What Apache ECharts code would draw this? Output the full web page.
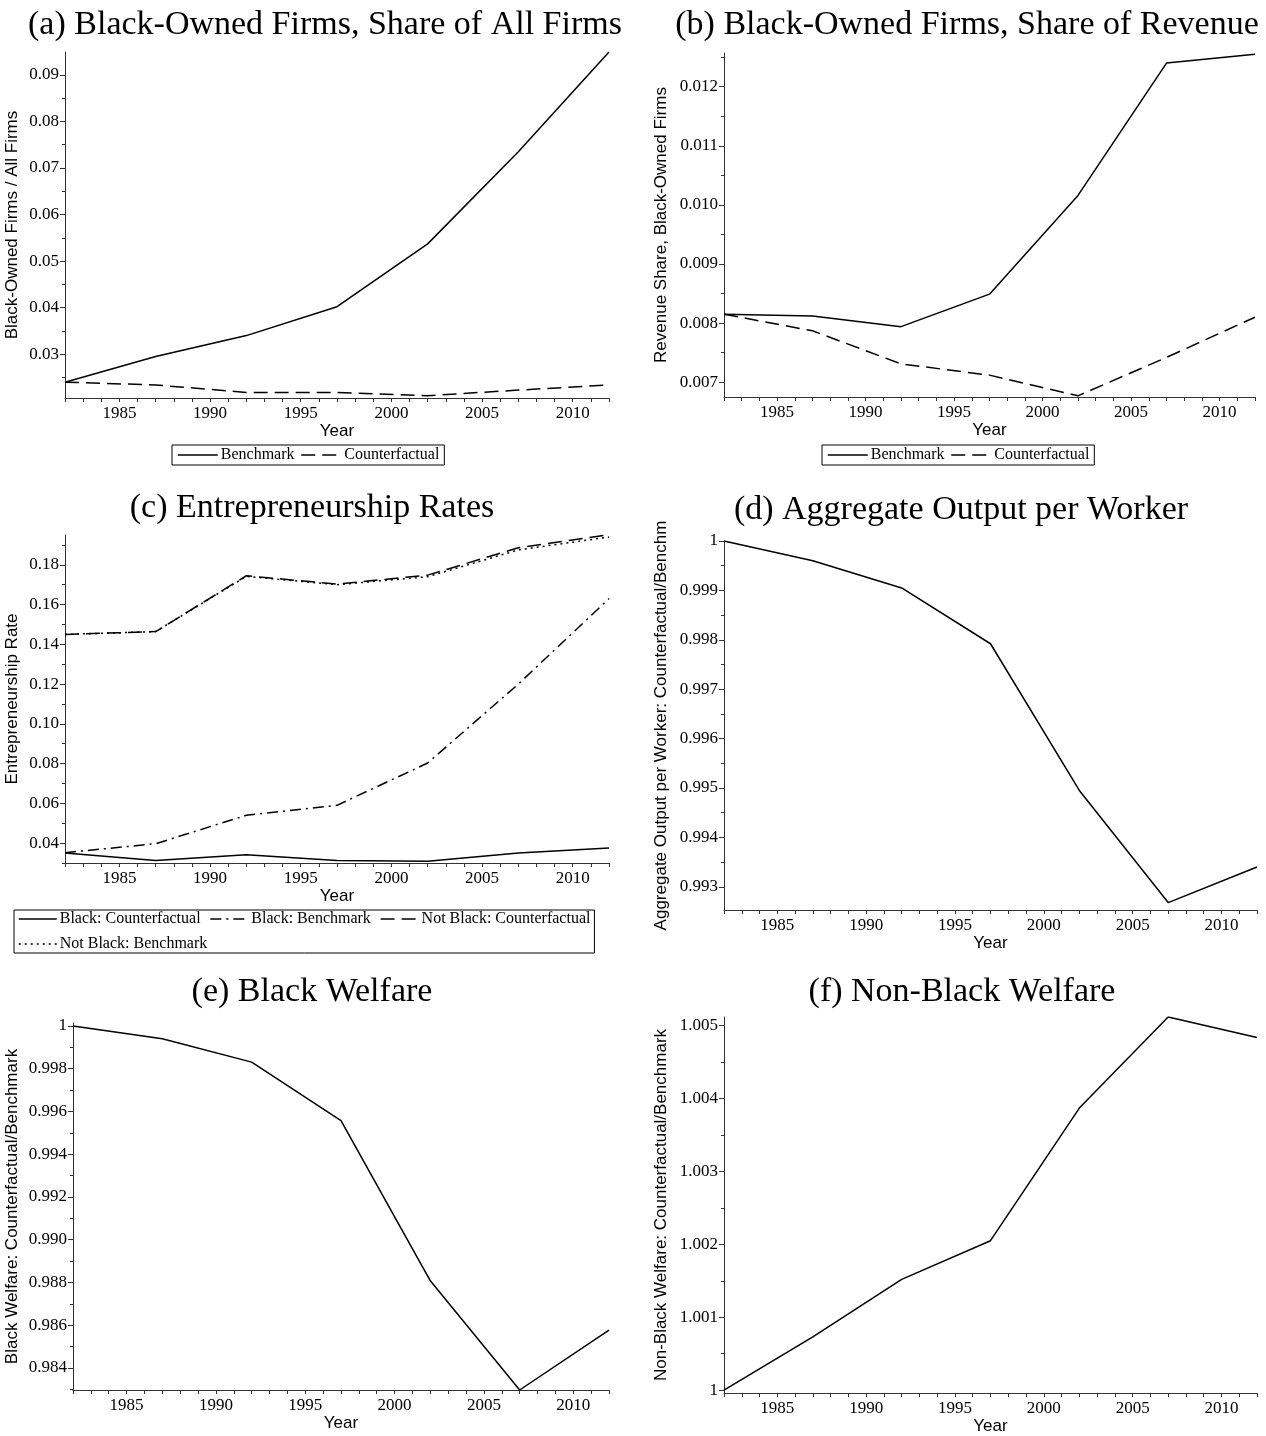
<!DOCTYPE html>
<html>
<head>
<meta charset="utf-8">
<script src="https://cdn.jsdelivr.net/npm/echarts@6/dist/echarts.min.js"></script>
<style>
html,body{margin:0;padding:0;background:#fff;}
#chart{width:1266px;height:1436px;}
</style>
</head>
<body>
<div id="chart"></div>
<script>
// ---------------- DATA ----------------
const years = [1982, 1987, 1992, 1997, 2002, 2007, 2012];
const yearTickLabels = [1985, 1990, 1995, 2000, 2005, 2010];

// (a) Black-owned firms, share of all firms
const firmShareBenchmark      = [0.0240, 0.0295, 0.0340, 0.0402, 0.0537, 0.0735, 0.0949];
const firmShareCounterfactual = [0.0240, 0.0234, 0.0218, 0.0218, 0.0211, 0.0223, 0.0234];
const firmShareTicks = [0.03, 0.04, 0.05, 0.06, 0.07, 0.08, 0.09];

// (b) Black-owned firms, share of revenue
const revShareBenchmark      = [0.00815, 0.00812, 0.00794, 0.00849, 0.01016, 0.01240, 0.01255];
const revShareCounterfactual = [0.00815, 0.00787, 0.00731, 0.00712, 0.00677, 0.00742, 0.00810];
const revShareTicks = [0.007, 0.008, 0.009, 0.010, 0.011, 0.012];

// (c) Entrepreneurship rates
const blackCounterfactual    = [0.0350, 0.0312, 0.0342, 0.0312, 0.0309, 0.0350, 0.0375];
const blackBenchmark         = [0.0352, 0.0397, 0.0540, 0.0590, 0.0803, 0.1200, 0.1630];
const notBlackCounterfactual = [0.1450, 0.1464, 0.1745, 0.1703, 0.1748, 0.1886, 0.1952];
const notBlackBenchmark      = [0.1450, 0.1464, 0.1742, 0.1700, 0.1740, 0.1875, 0.1940];
const entreTicks = [0.04, 0.06, 0.08, 0.10, 0.12, 0.14, 0.16, 0.18];

// (d) Aggregate output per worker (counterfactual / benchmark)
const outputRatio = [1.0, 0.99960, 0.99905, 0.99792, 0.99495, 0.99268, 0.99340];
const outputTicks = [0.993, 0.994, 0.995, 0.996, 0.997, 0.998, 0.999, 1];

// (e) Black welfare (counterfactual / benchmark)
const blackWelfare = [1.0, 0.99940, 0.99831, 0.99557, 0.98808, 0.98297, 0.98577];
const blackWelfareTicks = [0.984, 0.986, 0.988, 0.990, 0.992, 0.994, 0.996, 0.998, 1];

// (f) Non-black welfare (counterfactual / benchmark)
const nonBlackWelfare = [1.0, 1.00073, 1.00152, 1.00205, 1.00387, 1.00512, 1.00484];
const nonBlackWelfareTicks = [1, 1.001, 1.002, 1.003, 1.004, 1.005];

// ---------------- LAYOUT ----------------
const panels = [
  {grid:{left:65, top:52, width:544, height:346}, min:0.0206, max:0.0949, ticks:firmShareTicks, dec:2,
   name:'Black-Owned Firms / All Firms', nameGap:44, title:'(a) Black-Owned Firms, Share of All Firms', tx:320, ty:3},
  {grid:{left:724, top:53, width:531, height:344}, min:0.00675, max:0.01257, ticks:revShareTicks, dec:3,
   name:'Revenue Share, Black-Owned Firms', nameGap:54, title:'(b) Black-Owned Firms, Share of Revenue', tx:962, ty:3},
  {grid:{left:65, top:535, width:544, height:328}, min:0.030, max:0.195, ticks:entreTicks, dec:2,
   name:'Entrepreneurship Rate', nameGap:44, title:'(c) Entrepreneurship Rates', tx:307, ty:486},
  {grid:{left:724, top:541, width:533, height:369}, min:0.99253, max:1.0, ticks:outputTicks, dec:3,
   name:'Aggregate Output per Worker: Counterfactual/Benchm', nameGap:54, title:'(d) Aggregate Output per Worker', tx:956, ty:488},
  {grid:{left:73, top:1023, width:536, height:367}, min:0.98297, max:1.00014, ticks:blackWelfareTicks, dec:3,
   name:'Black Welfare: Counterfactual/Benchmark', nameGap:52, title:'(e) Black Welfare', tx:307, ty:970},
  {grid:{left:724, top:1017, width:533, height:376}, min:0.99996, max:1.00512, ticks:nonBlackWelfareTicks, dec:3,
   name:'Non-Black Welfare: Counterfactual/Benchmark', nameGap:54, title:'(f) Non-Black Welfare', tx:957, ty:970}
];

const SERIF = 'Liberation Serif';
const SANS = 'Liberation Sans';
const AXIS_COLOR = '#333';

function pairs(vals){ return years.map((y,i)=>[y, vals[i]]); }
function minorTicks(t, min, max){
  const out = [];
  const step = t[1]-t[0];
  for (let i = -1; i < t.length; i++){
    const base = i < 0 ? t[0]-step : t[i];
    const v = base + step/2;
    if (v >= min - 1e-12 && v <= max + 1e-12) out.push(v);
  }
  return out;
}
const allYears = [];
for (let y = 1982; y <= 2012; y++) allYears.push(y);

const grids = [], xAxes = [], yAxes = [], titles = [];
panels.forEach((p, i) => {
  grids.push(p.grid);
  titles.push({text:p.title, left:p.tx, top:p.ty, textAlign:'center',
    textStyle:{fontFamily:SERIF, fontSize:34, fontWeight:'normal', color:'#000'}});
  xAxes.push({
    type:'value', gridIndex:i, min:1982, max:2012, position:'bottom',
    name:'Year', nameLocation:'middle', nameGap:25,
    nameTextStyle:{fontFamily:SANS, fontSize:17, color:'#000'},
    axisLine:{show:true, onZero:false, lineStyle:{color:AXIS_COLOR, width:1}},
    axisTick:{show:true, inside:false, length:4, customValues:allYears, lineStyle:{color:AXIS_COLOR}},
    axisLabel:{customValues:yearTickLabels, margin:7, fontFamily:SERIF, fontSize:17, color:'#000',
      formatter:v=>String(v)},
    splitLine:{show:false}
  });
  const fmt = v => (Math.abs(v-1) < 1e-9 ? '1' : v.toFixed(p.dec));
  yAxes.push({
    type:'value', gridIndex:i, min:p.min, max:p.max, position:'left',
    name:p.name, nameLocation:'middle', nameGap:p.nameGap,
    nameTextStyle:{fontFamily:SANS, fontSize:17, color:'#000'},
    axisLine:{show:true, onZero:false, lineStyle:{color:AXIS_COLOR, width:1}},
    axisTick:{show:true, inside:false, length:5, customValues:p.ticks, lineStyle:{color:AXIS_COLOR}},
    axisLabel:{customValues:p.ticks, margin:6, fontFamily:SERIF, fontSize:17, color:'#000', formatter:fmt},
    splitLine:{show:false}
  });
});
// minor-tick axes
panels.forEach((p, i) => {
  yAxes.push({
    type:'value', gridIndex:i, min:p.min, max:p.max, position:'left',
    axisLine:{show:false},
    axisTick:{show:true, inside:false, length:3, customValues:minorTicks(p.ticks, p.min, p.max), lineStyle:{color:AXIS_COLOR}},
    axisLabel:{show:false},
    splitLine:{show:false}
  });
});

function line(name, panel, vals, type){
  return {
    name, type:'line', xAxisIndex:panel, yAxisIndex:panel, data:pairs(vals),
    symbol:'none', showSymbol:false, animation:false, silent:true,
    itemStyle:{color:'rgba(0,0,0,0)', opacity:0},
    lineStyle:{color:'#000', width:1.5, type:type}
  };
}

const DASH = [14, 7];
const DASHDOT = [11, 5, 2, 5];
const DOT = [2, 4];

const series = [
  line('Benchmark', 0, firmShareBenchmark, 'solid'),
  line('Counterfactual', 0, firmShareCounterfactual, DASH),
  line('Benchmark', 1, revShareBenchmark, 'solid'),
  line('Counterfactual', 1, revShareCounterfactual, DASH),
  line('Black: Counterfactual', 2, blackCounterfactual, 'solid'),
  line('Black: Benchmark', 2, blackBenchmark, DASHDOT),
  line('Not Black: Counterfactual', 2, notBlackCounterfactual, DASH),
  line('Not Black: Benchmark', 2, notBlackBenchmark, DOT),
  line('Output per Worker', 3, outputRatio, 'solid'),
  line('Black Welfare', 4, blackWelfare, 'solid'),
  line('Non-Black Welfare', 5, nonBlackWelfare, 'solid')
];

const legendBase = {
  orient:'horizontal', itemWidth:40, itemHeight:12, itemGap:6,
  borderColor:'#000', borderWidth:1, borderRadius:0, padding:[2,5],
  backgroundColor:'#fff', selectedMode:false,
  itemStyle:{opacity:0},
  lineStyle:{color:'#000', width:1.5},
  textStyle:{fontFamily:SERIF, fontSize:16, color:'#000', lineHeight:16, padding:[0,0,0,-2]}
};
const legends = [
  Object.assign({}, legendBase, {left:172, top:445, data:['Benchmark','Counterfactual']}),
  Object.assign({}, legendBase, {left:822, top:445, data:['Benchmark','Counterfactual']}),
  Object.assign({}, legendBase, {left:14, top:910, width:596, itemGap:9, itemWidth:38, padding:[1,4],
    data:['Black: Counterfactual','Black: Benchmark','Not Black: Counterfactual','Not Black: Benchmark']})
];

const chart = echarts.init(document.getElementById('chart'), null, {renderer:'canvas'});
chart.setOption({
  backgroundColor:'#fff',
  animation:false,
  title:titles,
  grid:grids,
  xAxis:xAxes,
  yAxis:yAxes,
  legend:legends,
  series:series
});
</script>
</body>
</html>
